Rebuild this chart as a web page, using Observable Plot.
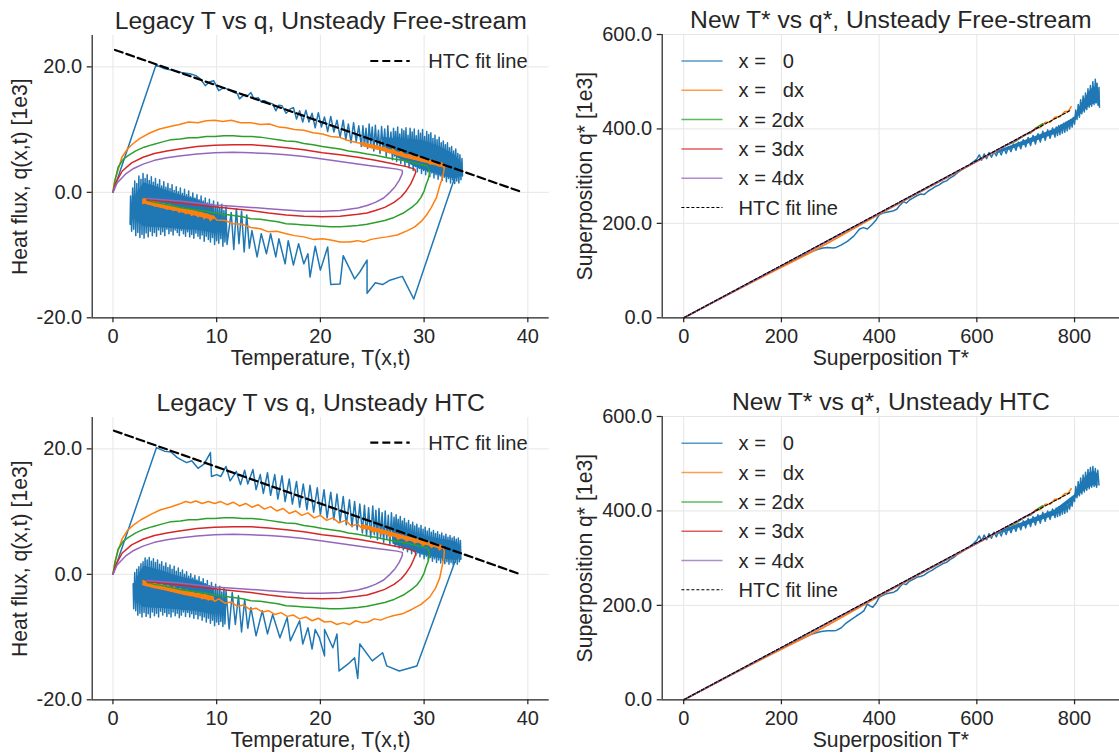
<!DOCTYPE html>
<html><head><meta charset="utf-8">
<script src="https://cdn.jsdelivr.net/npm/d3@7"></script>
<script src="https://cdn.jsdelivr.net/npm/@observablehq/plot@0.6"></script>
<style>
html,body{margin:0;padding:0;background:#fff;}
#root{position:relative;width:1119px;height:753px;overflow:hidden;font-family:"Liberation Sans",Arial,sans-serif;}
.panel{position:absolute;}
.panel svg{display:block;}
.legend{position:absolute;left:0;top:0;pointer-events:none;overflow:visible;}
</style></head><body><div id="root"></div>
<script>
// ---------------- data (flattened [x, y, x, y, ...]) ----------------
const COLORS = ["#1f77b4", "#ff7f0e", "#2ca02c", "#d62728", "#9467bd"];
const legacyXTicks = [0, 10, 20, 30, 40];
const legacyYTicks = [-20, 0, 20];
const superXTicks = [0, 200, 400, 600, 800];
const superYTicks = [0, 200, 400, 600];
const seriesLabels = ["x =\u00a0\u00a0\u00a00", "x =\u00a0\u00a0\u00a0dx", "x = 2dx", "x = 3dx", "x = 4dx"];

// Legacy T vs q, unsteady free-stream (T, q[1e3])
const blueLegacyFree = [0,0, 4.15,20.3, 5.0,19.7, 5.9,19.4, 6.6,19.1, 7.5,18.85, 8.0,18.6, 8.45,18.05, 8.9,17.0, 9.3,17.6, 9.7,17.8, 10.2,16.2, 10.7,16.7, 11.2,16.3, 11.6,16.0, 12.0,15.7, 12.2,14.9, 12.6,15.5, 13.0,15.4, 13.3,15.9, 13.6,14.9, 14.0,15.1, 14.3,14.4, 14.6,14.6, 15.0,14.3, 15.4,14.1, 15.7,13.0, 16.0,13.9, 16.3,13.8, 16.7,12.6, 17.1,13.3,
 17.4,13.5, 17.7,11.7, 18.0,13.0, 18.3,11.2, 18.6,13.1, 18.9,11.2, 19.2,12.6, 19.5,10.3, 19.8,12.7, 20.1,10.4, 20.4,12.0, 20.7,9.7, 21.0,12.1, 21.3,9.6, 21.6,11.5, 21.9,8.8, 22.2,11.5, 22.45,8.4, 22.7,10.9, 22.95,7.9, 23.2,11.1, 23.45,8.1, 23.7,10.6, 23.95,7.3,
 24.1,10.6, 24.25,7.4, 24.4,10.2, 24.55,7.0, 24.7,10.9, 24.85,7.6, 25.0,10.4, 25.15,6.6, 25.3,10.7, 25.45,7.1, 25.6,9.9, 25.75,6.2, 25.9,10.5, 26.05,6.8, 26.2,10.1, 26.35,5.7, 26.5,10.6, 26.65,6.3, 26.8,9.6, 26.95,5.2,
 27.05,10.2, 27.15,5.8, 27.25,9.7, 27.35,4.9, 27.45,10.4, 27.55,5.5, 27.65,9.3, 27.75,4.6, 27.85,10.1, 27.95,5.1, 28.05,9.8, 28.15,4.2, 28.25,10.3, 28.35,4.8, 28.45,9.1, 28.55,3.9, 28.65,10.2, 28.75,4.5, 28.85,9.6, 28.95,3.5, 29.05,10.1, 29.15,4.1, 29.25,9.0, 29.35,3.3, 29.45,9.9, 29.55,3.8, 29.65,9.4, 29.75,3.0, 29.85,10.0, 29.95,3.5, 30.05,8.9, 30.15,2.8, 30.25,9.7, 30.35,3.3, 30.45,9.2, 30.55,2.5, 30.65,9.5, 30.75,3.1, 30.85,8.6, 30.95,2.3, 31.05,9.1, 31.15,2.8, 31.25,8.4, 31.35,2.1, 31.45,8.8, 31.55,2.6, 31.65,7.9, 31.75,1.9, 31.85,8.2, 31.95,2.4, 32.05,7.6, 32.15,1.7, 32.25,7.9, 32.35,2.2, 32.45,7.1, 32.55,1.5, 32.65,7.3, 32.75,2.0, 32.85,6.6, 32.95,1.4, 33.05,6.9, 33.15,1.8, 33.25,6.2, 33.35,1.5, 33.45,6.0, 33.55,2.0, 33.65,5.4, 33.7,2.6, 33.3,4.0, 32.8,1.6,
 29.0,-17.0, 27.9,-13.4, 26.7,-14.0, 26.0,-14.7, 25.3,-14.4, 24.5,-16.1, 24.5,-10.8, 23.8,-12.7, 23.3,-13.8, 22.2,-10.1, 21.9,-14.6, 21.0,-14.7, 20.7,-8.7, 20.0,-12.4, 19.5,-8.6, 19.0,-13.5, 18.8,-9.8, 18.4,-11.4, 17.9,-8.2, 17.4,-11.6, 16.9,-7.7, 16.6,-11.4, 16.0,-7.4, 15.7,-10.3, 15.2,-6.6, 14.8,-9.8, 14.3,-6.6, 13.9,-10.3, 13.4,-6.1, 13.15,-8.9, 12.9,-3.6, 12.65,-9.5, 12.4,-3.0, 12.15,-8.2, 11.9,-2.6, 11.65,-9.1, 11.4,-3.2,
 11.0,-8.3, 10.9,-2.3, 10.8,-7.9, 10.7,-2.9, 10.6,-8.6, 10.5,-1.9, 10.4,-7.4, 10.3,-2.5, 10.2,-8.1, 10.1,-1.6, 10.0,-7.7, 9.9,-2.2, 9.8,-8.3, 9.7,-1.4, 9.6,-7.2, 9.5,-1.9, 9.4,-7.9, 9.3,-1.1, 9.2,-7.5, 9.1,-1.7, 9.0,-7.0, 8.9,-0.9, 8.8,-7.8, 8.7,-1.4, 8.6,-6.8, 8.5,-0.6, 8.4,-7.4, 8.3,-1.2, 8.2,-7.0, 8.1,-0.4, 8.0,-6.5, 7.9,-0.9, 7.8,-7.3, 7.7,-0.1, 7.6,-6.7, 7.5,-0.7, 7.4,-7.1, 7.3,0.2, 7.2,-6.3, 7.1,-0.4, 7.0,-7.0, 6.9,0.5, 6.8,-6.6, 6.7,-0.2, 6.6,-6.1, 6.5,0.7, 6.4,-6.9, 6.3,0.1, 6.2,-6.4, 6.1,0.9, 6.0,-6.0, 5.9,0.3, 5.8,-6.8, 5.7,1.2, 5.6,-6.2, 5.5,0.6, 5.4,-6.6, 5.3,1.4, 5.2,-5.9, 5.1,0.8, 5.0,-6.9, 4.9,1.7, 4.8,-6.3, 4.7,1.0, 4.6,-6.7, 4.5,2.0, 4.4,-6.0, 4.3,1.3, 4.2,-7.0, 4.1,2.2, 4.0,-6.4, 3.9,1.6, 3.8,-6.9, 3.7,2.5, 3.6,-6.2, 3.5,1.9, 3.4,-7.1, 3.3,2.8, 3.2,-6.5, 3.1,2.2, 3.0,-7.3, 2.9,3.0, 2.8,-6.7, 2.7,2.1, 2.6,-7.2, 2.5,2.6, 2.4,-6.4, 2.3,1.4, 2.2,-6.9, 2.1,1.8, 2.0,-5.9, 1.9,0.7, 1.8,-6.2, 1.7,-0.6, 1.65,-5.1, 1.9,-1.2, 2.2,-4.6, 2.6,-0.8, 2.9,-2.4];
// solid cores of the densest blue scatter, [T, q low, q high, ...]
const blueLegacyFreeCore = [26.0,7.2,8.8, 27.0,6.0,8.6, 28.0,5.0,8.5, 29.0,4.2,8.4, 30.0,3.5,8.2, 31.0,3.0,7.6, 32.0,2.5,6.9, 33.0,2.1,5.9, 33.5,2.5,5.0];
const blueLegacyFreeCore2 = [2.2,-4.5,-0.5, 3.0,-5.5,1.5, 4.0,-5.6,1.0, 5.0,-5.7,0.4, 6.0,-5.8,-0.2, 7.0,-6.0,-0.7, 8.0,-6.0,-1.1, 9.0,-6.3,-1.8, 9.8,-6.6,-2.6];

const orangeLegacyFree = [0,0, 0.17,1.85, 0.5,3.6, 0.86,5.6, 1.4,6.9, 1.9,7.7, 2.6,8.6, 3.6,9.5, 4.5,10.1, 5.5,10.5, 6.4,10.8, 7.3,11.2, 8.2,11.1, 9.0,11.4, 9.8,11.5, 10.6,11.3, 11.4,11.5, 12.3,11.1, 13.3,11.1, 14.2,10.8, 15.1,10.9, 16.0,10.4, 16.7,10.3, 17.5,10.0, 18.4,9.9, 19.3,9.5, 20.2,9.3, 21.0,8.9, 21.8,8.8, 22.6,8.3, 23.6,7.9, 24.3,7.7, 25.0,7.1, 25.4,7.5, 25.8,6.8, 26.2,7.2, 26.6,6.4, 27.0,6.9, 27.4,6.0, 27.8,6.5, 28.2,5.6, 28.6,6.1, 29.0,5.3, 29.4,5.7, 29.8,4.9, 30.2,5.4, 30.6,4.5, 31.0,5.0, 31.4,4.2, 31.7,4.7, 31.9,3.8, 32.0,4.3, 31.8,2.5, 31.5,1.0, 31.2,-0.8, 30.7,-2.4, 30.2,-3.7, 29.8,-4.5, 29.1,-5.5, 28.4,-6.1, 27.4,-6.8, 26.4,-7.1, 25.6,-7.3, 24.9,-7.5, 24.2,-7.9, 23.6,-7.7, 22.8,-7.9, 21.9,-7.9, 21.0,-7.6, 20.2,-7.4, 19.3,-7.5, 18.4,-7.1, 17.5,-6.9, 16.7,-6.6, 15.8,-6.2, 15.0,-6.3, 14.2,-5.8, 13.3,-5.6, 12.5,-5.1, 11.6,-5.0, 10.8,-4.5, 10.0,-4.4, 9.7,-3.8, 9.4,-4.5, 9.1,-3.5, 8.8,-4.2, 8.5,-3.2, 8.2,-3.9, 7.9,-3.0, 7.6,-3.7, 7.3,-2.8, 7.0,-3.4, 6.7,-2.5, 6.4,-3.2, 6.1,-2.3, 5.8,-2.9, 5.5,-2.0, 5.2,-2.7, 4.9,-1.8, 4.6,-2.4, 4.3,-1.6, 4.0,-2.2, 3.7,-1.3, 3.4,-1.9, 3.1,-1.0, 2.9,-1.8, 2.9,-1.2];
const orangeLegacyFreeCore = [24.0,7.3,8.0, 26.0,6.5,7.2, 28.0,5.5,6.2, 30.0,4.7,5.3, 31.8,3.9,4.6];
const orangeLegacyFreeCore2 = [2.9,-1.8,-1.0, 4.0,-2.3,-1.5, 5.0,-2.7,-1.9, 6.0,-3.0,-2.2, 7.0,-3.4,-2.6, 8.0,-3.8,-3.0, 9.0,-4.2,-3.4, 9.8,-4.4,-3.8];

// Legacy T vs q, unsteady HTC
const blueLegacyHTC = [0,0, 4.2,20.2, 5.0,19.6, 5.6,19.5, 6.2,18.6, 7.1,17.8, 7.6,18.1, 8.2,16.9, 8.8,17.6, 9.4,19.4, 9.5,15.6, 10.0,15.9, 10.4,15.6, 10.9,17.2, 11.3,14.9, 11.9,16.4, 12.3,14.3, 12.7,16.6, 13.0,14.4, 13.5,16.7, 13.8,13.5, 14.2,15.9, 14.5,12.9, 14.9,16.2, 15.2,12.6, 15.6,15.9, 15.9,12.0, 16.3,15.7, 16.6,11.6, 17.0,15.2, 17.3,11.2, 17.7,14.8, 18.0,10.7, 18.35,14.4, 18.7,10.3, 19.0,14.2, 19.35,9.9, 19.7,13.8, 20.0,9.5, 20.35,13.5, 20.65,9.0, 21.0,13.1, 21.3,8.7, 21.6,12.8, 21.9,8.4, 22.2,12.4, 22.5,7.9, 22.8,11.9, 23.05,7.6, 23.3,11.6, 23.55,7.1, 23.8,11.2,
 24.05,6.6, 24.25,11.0, 24.45,6.2, 24.65,10.6, 24.85,5.8, 25.05,10.9, 25.2,6.3, 25.35,10.2, 25.5,5.5, 25.65,10.5, 25.8,5.9, 25.95,9.8, 26.1,5.1, 26.25,10.1, 26.4,5.6, 26.55,9.4, 26.7,4.8, 26.85,9.8, 27.0,5.2,
 27.1,9.1, 27.2,4.5, 27.3,9.5, 27.4,4.9, 27.5,8.8, 27.6,4.2, 27.7,9.2, 27.8,4.6, 27.9,8.5, 28.0,3.9, 28.1,8.9, 28.2,4.3, 28.3,8.2, 28.4,3.6, 28.5,8.6, 28.6,4.0, 28.7,7.9, 28.8,3.3, 28.9,8.3, 29.0,3.7, 29.1,7.7, 29.2,3.0, 29.3,8.0, 29.4,3.4, 29.5,7.4, 29.6,2.8, 29.7,7.8, 29.8,3.2, 29.9,7.2, 30.0,2.5, 30.1,7.5, 30.2,2.9, 30.3,6.9, 30.4,2.3, 30.5,7.3, 30.6,2.7, 30.7,6.7, 30.8,2.1, 30.9,7.0, 31.0,2.5, 31.1,6.5, 31.2,1.9, 31.3,6.8, 31.4,2.3, 31.5,6.3, 31.6,1.8, 31.7,6.6, 31.8,2.2, 31.9,6.1, 32.0,1.7, 32.1,6.4, 32.2,2.0, 32.3,5.9, 32.4,1.6, 32.5,6.2, 32.6,1.9, 32.7,5.8, 32.8,1.5, 32.9,6.0, 33.0,1.9, 33.1,5.6, 33.2,1.6, 33.3,5.8, 33.4,2.0, 33.5,5.4, 33.55,2.4, 33.2,3.2, 32.9,1.7,
 29.3,-14.6, 27.6,-15.4, 26.4,-14.6, 26.0,-12.5, 25.0,-13.8, 23.8,-11.1, 23.6,-16.6, 23.3,-13.3, 22.8,-14.1, 21.8,-15.4, 21.6,-9.5, 21.2,-11.7, 20.4,-8.8, 20.4,-13.0, 19.9,-10.1, 19.5,-8.8, 19.2,-11.9, 18.8,-8.5, 18.3,-11.1, 18.0,-7.4, 17.1,-10.6, 16.8,-6.9, 16.1,-10.1, 15.4,-6.4, 14.9,-9.5, 14.4,-5.8, 13.8,-9.8, 13.3,-5.3, 13.0,-8.6, 12.7,-4.0, 12.4,-9.2, 12.1,-3.4, 11.8,-8.0, 11.5,-2.9, 11.2,-8.7,
 10.9,-2.6, 10.8,-7.9, 10.7,-2.2, 10.6,-8.3, 10.5,-2.8, 10.4,-7.5, 10.3,-1.9, 10.2,-8.0, 10.1,-2.4, 10.0,-7.6, 9.9,-1.6, 9.8,-8.2, 9.7,-2.1, 9.6,-7.3, 9.5,-1.3, 9.4,-7.8, 9.3,-1.8, 9.2,-7.0, 9.1,-1.0, 9.0,-7.6, 8.9,-1.5, 8.8,-6.8, 8.7,-0.7, 8.6,-7.3, 8.5,-1.2, 8.4,-6.6, 8.3,-0.4, 8.2,-7.1, 8.1,-0.9, 8.0,-6.4, 7.9,-0.2, 7.8,-7.0, 7.7,-0.6, 7.6,-6.3, 7.5,0.1, 7.4,-6.8, 7.3,-0.3, 7.2,-6.1, 7.1,0.4, 7.0,-6.7, 6.9,0.0, 6.8,-6.0, 6.7,0.7, 6.6,-6.5, 6.5,0.3, 6.4,-6.9, 6.3,1.0, 6.2,-6.2, 6.1,0.5, 6.0,-6.6, 5.9,1.3, 5.8,-6.0, 5.7,0.8, 5.6,-6.8, 5.5,1.5, 5.4,-6.3, 5.3,1.1, 5.2,-6.7, 5.1,1.8, 5.0,-6.1, 4.9,1.3, 4.8,-6.5, 4.7,2.0, 4.6,-5.9, 4.5,1.6, 4.4,-6.8, 4.3,2.3, 4.2,-6.2, 4.1,1.9, 4.0,-6.6, 3.9,2.5, 3.8,-6.0, 3.7,2.1, 3.6,-6.9, 3.5,2.7, 3.4,-6.3, 3.3,2.3, 3.2,-6.7, 3.1,2.6, 3.0,-6.1, 2.9,2.0, 2.8,-6.8, 2.7,1.7, 2.6,-6.2, 2.5,1.2, 2.4,-6.5, 2.3,0.8, 2.2,-5.8, 2.1,0.3, 2.0,-5.5, 1.95,-1.5, 2.3,-4.4, 2.6,-0.9, 3.0,-2.0];
const blueLegacyHTCCore = [27.0,4.8,7.2, 28.0,4.2,6.9, 29.0,3.6,6.5, 30.0,3.1,6.1, 31.0,2.7,5.8, 32.0,2.4,5.5, 33.0,2.2,5.2, 33.4,2.5,4.7];
const blueLegacyHTCCore2 = [2.3,-4.3,-0.6, 3.0,-5.3,1.3, 4.0,-5.4,0.9, 5.0,-5.5,0.4, 6.0,-5.6,-0.2, 7.0,-5.8,-0.6, 8.0,-5.9,-1.0, 9.0,-6.2,-1.6, 9.8,-6.5,-2.4];

const orangeLegacyHTC = [0,0, 0.2,2.0, 0.5,3.8, 0.9,5.7, 1.4,7.0, 2.0,7.9, 2.7,8.7, 3.7,9.6, 4.6,10.3, 5.5,10.7, 6.4,11.2, 7.0,11.6, 7.5,11.4, 8.0,11.7, 8.6,11.3, 9.2,11.6, 9.8,11.3, 10.4,11.6, 11.0,11.1, 11.6,11.5, 12.2,10.9, 12.8,11.3, 13.4,10.7, 14.0,11.1, 14.6,10.4, 15.2,10.8, 15.8,10.1, 16.4,10.5, 17.0,9.7, 17.6,10.1, 18.2,9.4, 18.8,9.8, 19.4,9.0, 20.0,9.4, 20.6,8.6, 21.2,9.0, 21.8,8.2, 22.4,8.6, 23.0,7.7, 23.6,8.0, 24.1,7.2, 24.6,7.6, 25.1,6.7, 25.5,7.3, 25.9,6.4, 26.3,6.9, 26.7,6.0, 27.1,6.5, 27.5,5.6, 27.9,6.1, 28.3,5.3, 28.7,5.8, 29.1,5.0, 29.5,5.4, 29.9,4.6, 30.3,5.1, 30.7,4.3, 31.1,4.8, 31.5,3.9, 31.8,4.5, 31.95,3.7, 31.9,2.6, 31.7,1.0, 31.5,-0.6, 31.1,-2.2, 30.5,-3.7, 29.7,-4.8, 28.8,-5.6, 27.9,-6.3, 27.0,-6.6, 26.4,-6.9, 25.8,-7.3, 25.2,-7.1, 24.6,-7.6, 24.0,-7.7, 23.4,-7.4, 22.8,-8.0, 22.2,-7.7, 21.6,-8.0, 21.0,-7.5, 20.4,-7.6, 19.8,-7.0, 19.2,-7.4, 18.6,-6.8, 18.0,-7.1, 17.4,-6.5, 16.8,-6.7, 16.2,-6.1, 15.6,-6.4, 15.0,-5.8, 14.4,-6.0, 13.8,-5.4, 13.2,-5.6, 12.6,-4.9, 12.0,-5.1, 11.4,-4.4, 10.8,-4.6, 10.2,-3.9, 9.8,-4.3, 9.5,-3.5, 9.2,-4.1, 8.9,-3.2, 8.6,-3.9, 8.3,-3.0, 8.0,-3.6, 7.7,-2.7, 7.4,-3.4, 7.1,-2.5, 6.8,-3.1, 6.5,-2.3, 6.2,-2.9, 5.9,-2.0, 5.6,-2.7, 5.3,-1.8, 5.0,-2.4, 4.7,-1.6, 4.4,-2.2, 4.1,-1.4, 3.8,-2.0, 3.5,-1.2, 3.2,-1.8, 2.95,-1.0, 2.9,-1.6];
const orangeLegacyHTCCore = [24.0,7.3,8.0, 26.0,6.4,7.1, 28.0,5.5,6.2, 30.0,4.7,5.3, 31.8,3.9,4.6];
const orangeLegacyHTCCore2 = [2.9,-1.8,-1.0, 4.0,-2.3,-1.5, 5.0,-2.6,-1.8, 6.0,-3.0,-2.2, 7.0,-3.4,-2.6, 8.0,-3.7,-3.0, 9.0,-4.1,-3.3, 9.8,-4.3,-3.6];

// inner-node loops (nearly identical in both legacy panels)
const greenLegacy = [0,0, 0.2,1.9, 0.5,4.0, 1.0,5.3, 1.5,5.9, 2.2,6.6, 3.0,7.2, 3.8,7.6, 4.7,8.0, 5.6,8.4, 6.5,8.5, 7.3,8.7, 8.1,8.7, 9.0,8.9, 9.8,8.9, 10.7,9.0, 11.6,9.0, 12.5,8.9, 13.3,8.9, 14.2,8.8, 15.0,8.6, 15.9,8.4, 16.7,8.2, 17.6,8.1, 18.4,7.8, 19.3,7.6, 20.2,7.3, 21.0,7.1, 21.9,6.9, 22.7,6.6, 23.6,6.4, 24.5,6.1, 25.3,5.9, 26.2,5.6, 27.1,5.3, 27.9,5.1, 28.8,4.8, 29.5,4.5, 30.3,4.2, 30.5,3.5, 30.5,2.9, 30.4,2.1, 30.2,1.3, 30.0,0.2, 29.7,-0.8, 29.3,-1.7, 28.8,-2.4, 28.0,-3.3, 27.1,-4.0, 26.2,-4.5, 25.3,-4.8, 24.5,-5.1, 23.6,-5.3, 22.7,-5.4, 21.9,-5.5, 21.0,-5.5, 20.2,-5.4, 19.3,-5.3, 18.4,-5.2, 17.6,-5.1, 16.7,-5.0, 15.9,-4.7, 15.0,-4.5, 14.2,-4.3, 13.3,-4.2, 12.5,-3.9, 11.6,-3.7, 10.7,-3.5, 9.8,-3.3, 9.0,-3.0, 8.1,-2.8, 7.3,-2.6, 6.4,-2.4, 5.6,-2.1, 4.7,-1.8, 4.0,-1.6, 3.3,-1.3];
const redLegacy = [0,0, 0.3,1.6, 0.9,3.4, 1.8,4.7, 2.9,5.6, 4.0,6.2, 5.2,6.6, 6.4,6.9, 8.1,7.3, 9.8,7.5, 11.6,7.6, 13.3,7.6, 15.0,7.4, 16.7,7.1, 18.4,6.8, 20.2,6.3, 21.9,6.0, 23.6,5.6, 25.3,5.1, 27.1,4.5, 28.3,4.1, 29.1,3.7, 29.2,3.2, 29.0,2.4, 28.7,1.3, 28.3,0.3, 27.8,-0.7, 27.1,-1.6, 26.2,-2.4, 25.3,-2.9, 24.5,-3.3, 23.6,-3.5, 21.9,-3.8, 20.2,-3.9, 18.4,-3.8, 16.7,-3.6, 15.0,-3.3, 13.3,-2.9, 11.6,-2.6, 9.8,-2.3, 8.1,-2.0, 6.4,-1.7, 4.8,-1.4, 3.3,-1.2];
const purpleLegacy = [0,0, 0.4,1.5, 1.2,2.9, 2.0,3.8, 2.9,4.5, 4.0,5.1, 5.2,5.5, 6.4,5.8, 8.1,6.1, 9.8,6.3, 11.6,6.4, 13.3,6.3, 15.0,6.2, 16.7,6.0, 18.4,5.7, 20.2,5.3, 21.9,4.9, 23.6,4.5, 25.0,4.2, 26.4,3.9, 27.4,3.7, 27.9,3.5, 27.9,3.0, 27.6,1.9, 27.2,0.9, 26.7,0.0, 26.1,-0.9, 25.3,-1.6, 24.5,-2.1, 23.6,-2.5, 21.9,-2.9, 20.2,-3.0, 18.4,-3.0, 16.7,-2.8, 15.0,-2.6, 13.3,-2.4, 11.6,-2.2, 9.8,-2.0, 8.1,-1.7, 6.4,-1.4, 4.8,-1.2, 3.3,-1.0];
const htcFitLegacyFree = [0.2,22.7, 39.5,0.0];
const htcFitLegacyHTC = [0.1,22.9, 39.3,0.0];

// Superposition T* vs q* [1e3]
const blueSuperFree = [0,0, 40,22, 80,44, 120,66, 160,88, 200,110, 215,117, 230,124, 245,132, 260,139, 275,145, 285,148, 295,149, 305,148, 312,149, 322,154, 335,162, 348,173, 360,188, 368,191, 376,188, 385,197, 393,206, 400,218, 408,222, 418,224, 428,226, 436,230, 442,238, 450,246, 456,243, 463,250, 470,254, 478,259, 485,262, 492,261, 500,268, 508,273, 515,278, 522,281, 530,287, 538,290, 545,296, 552,300, 560,307, 567,312, 575,318, 583,322, 590,328, 596,333,
 600,336, 605,345, 610,334, 615,347, 620,337, 625,350, 630,340, 635,352, 640,343, 645,356, 650,345, 655,360, 660,348, 665,362, 670,352, 675,368, 680,355, 685,372, 690,358, 695,377, 700,362, 705,382, 710,365, 715,386, 720,368, 725,390, 730,372, 735,395, 740,376, 745,398, 750,380, 755,402,
 760,383, 762.5,404, 765,386, 767.5,407, 770,388, 772.5,409, 775,391, 777.5,412, 780,393, 782.5,414, 785,396, 787.5,417, 790,400, 792.5,420, 795,404, 797.5,424, 800,410, 802.5,440, 805,420, 807.5,452, 810,425, 812.5,462, 815,432, 817.5,470, 820,436, 822.5,476, 825,441, 827.5,485, 830,446, 832.5,492, 835,448, 837.5,500, 840,452, 842.5,505, 844,455, 846,497, 848,450, 850,488, 851,446];
const blueSuperFreeCore = [640,347,352, 700,366,376, 760,388,400, 800,414,424, 810,428,446, 820,438,462, 830,447,478, 840,453,490, 848,455,482];
const blueSuperHTC = [0,0, 40,22, 80,44, 120,66, 160,88, 200,110, 215,117, 230,124, 245,131, 260,138, 275,143, 285,145, 295,146, 305,146, 312,147, 322,152, 332,162, 344,171, 354,178, 362,183, 369,189, 376,203, 381,199, 387,196, 394,205, 400,217, 407,221, 413,224, 422,226, 430,228, 437,232, 443,240, 449,246, 455,244, 462,251, 470,255, 478,260, 485,261, 492,264, 500,270, 508,274, 515,279, 522,283, 530,288, 538,291, 545,297, 552,301, 560,308, 567,312, 575,318, 583,323, 590,328, 596,334,
 600,338, 605,347, 610,336, 615,349, 620,339, 625,352, 630,342, 635,355, 640,345, 645,358, 650,347, 655,362, 660,350, 665,365, 670,354, 675,370, 680,357, 685,374, 690,360, 695,379, 700,364, 705,384, 710,367, 715,388, 720,370, 725,392, 730,374, 735,397, 740,378, 745,400, 750,382, 755,404,
 760,386, 762.5,406, 765,388, 767.5,409, 770,390, 772.5,411, 775,393, 777.5,414, 780,395, 782.5,416, 785,398, 787.5,419, 790,404, 792.5,424, 795,410, 797.5,430, 800,420, 802.5,452, 805,428, 807.5,462, 810,432, 812.5,470, 815,436, 817.5,476, 820,440, 822.5,482, 825,444, 827.5,488, 830,447, 832.5,492, 835,450, 837.5,494, 840,452, 842.5,490, 845,450, 847.5,486, 850,455];
const blueSuperHTCCore = [640,349,354, 700,368,378, 760,390,402, 800,424,434, 810,434,454, 820,442,468, 830,449,480, 840,454,484, 848,452,478];
const orangeSuper = [0,0, 100,54, 200,107, 250,133, 300,161, 350,190, 400,219, 450,247, 500,275, 550,303, 600,331, 640,353, 660,366, 680,374, 700,389, 710,391, 720,402, 730,403, 740,414, 750,414, 760,425, 770,426, 780,437, 787,437, 793,447];
const greenSuper = [0,0, 100,55, 200,110, 300,166, 400,221, 500,277, 600,332, 650,360, 680,375, 700,388, 710,392, 720,401, 727,406, 735,411];
const redSuper = [0,0, 200,110, 400,221, 600,332, 700,388, 712,395, 725,403];
const purpleSuper = [0,0, 200,110, 400,221, 600,332, 700,388, 715,396];
const htcFitSuper = [0,0, 793,440];

// ---------------- drawing ----------------
const FONT = "'Liberation Sans', Arial, sans-serif";
const TEXT = "#262626", AXIS = "#262626", GRID = "#e6e6e6";
const pts = a => d3.range(0, a.length, 2).map(i => [a[i], a[i + 1]]);
const trip = a => d3.range(0, a.length, 3).map(i => [a[i], a[i + 1], a[i + 2]]);
const fmt1 = d => d.toFixed(1);

function panel(o) {
  const marks = [];
  o.series.forEach((s, i) => {
    (o.cores[i] || []).forEach(c => marks.push(Plot.areaY(trip(c), {x: d => d[0], y1: d => d[1], y2: d => d[2], fill: COLORS[i]})));
    marks.push(Plot.line(pts(s), {x: d => d[0], y: d => d[1], stroke: COLORS[i], strokeWidth: 1.5, strokeLinejoin: "round"}));
  });
  return Plot.plot({
    width: o.w, height: o.h,
    marginTop: o.m[0], marginRight: o.m[1], marginBottom: o.m[2], marginLeft: o.m[3],
    x: {domain: o.xDomain, label: null},
    y: {domain: o.yDomain, label: null},
    style: {fontFamily: FONT, fontSize: "20px", color: TEXT, background: "white", overflow: "visible"},
    marks: [
      Plot.gridX(o.xTicks, {stroke: GRID, strokeOpacity: 1, strokeWidth: 1}),
      Plot.gridY(o.yTicks, {stroke: GRID, strokeOpacity: 1, strokeWidth: 1}),
      ...marks,
      Plot.line(pts(o.fit), {x: d => d[0], y: d => d[1], stroke: "black", strokeWidth: o.fitW, strokeDasharray: o.fitDash}),
      Plot.ruleX([o.xDomain[0]], {stroke: AXIS, strokeWidth: 1.25}),
      Plot.ruleY([o.yDomain[0]], {stroke: AXIS, strokeWidth: 1.25}),
      Plot.axisX(o.xTicks, {tickSize: 5, tickPadding: 6, tickFormat: o.xFmt, label: null, stroke: AXIS, strokeWidth: 1.25, fontSize: 20}),
      Plot.axisY(o.yTicks, {tickSize: 5, tickPadding: 5, tickFormat: fmt1, label: null, stroke: AXIS, strokeWidth: 1.25, fontSize: 20}),
      Plot.text([o.title], {text: d => d, frameAnchor: "top", textAnchor: "middle", lineAnchor: "bottom", dy: -6.7, fontSize: 24.7}),
      Plot.text([o.xLabel], {text: d => d, frameAnchor: "bottom", textAnchor: "middle", lineAnchor: "bottom", dy: 47.5, fontSize: 21.2}),
      Plot.text([o.yLabel], {text: d => d, frameAnchor: "left", textAnchor: "middle", lineAnchor: "bottom", rotate: -90, dx: o.yLabelDx, fontSize: 21.2})
    ]
  });
}

function legend(host, items, x0, x1, xt, y0, step, w, h) {
  const svg = d3.select(host).append("svg").attr("class", "legend").attr("width", w).attr("height", h)
    .style("font-family", FONT).style("font-size", "20.1px");
  items.forEach((it, i) => {
    const y = y0 + i * step;
    svg.append("line").attr("x1", x0).attr("x2", x1).attr("y1", y).attr("y2", y)
      .attr("stroke", it.color).attr("stroke-width", it.w).attr("stroke-dasharray", it.dash || null)
      .attr("stroke-opacity", it.op == null ? 1 : it.op);
    svg.append("text").attr("x", xt).attr("y", y).attr("dy", "0.35em").attr("fill", TEXT).text(it.label);
  });
}

const root = document.getElementById("root");
function place(left, top, node) {
  const d = document.createElement("div");
  d.className = "panel"; d.style.left = left + "px"; d.style.top = top + "px";
  d.appendChild(node); root.appendChild(d); return d;
}

const legacyCommon = {w: 560, h: 371, m: [35, 11.3, 53.7, 91.7], xDomain: [-2, 42.06], yDomain: [-20, 25],
  xTicks: legacyXTicks, yTicks: legacyYTicks, xFmt: d => String(d), fitW: 2.2, fitDash: "8,4",
  xLabel: "Temperature, T(x,t)", yLabel: "Heat flux, q(x,t) [1e3]", yLabelDx: -65};
const superCommon = {w: 559, h: 371, m: [34, 0, 53.7, 101.7], xDomain: [-44, 892], yDomain: [0, 600],
  xTicks: superXTicks, yTicks: superYTicks, xFmt: d => String(d), fitW: 1.1, fitDash: "3,2",
  xLabel: "Superposition T*", yLabel: "Superposition q* [1e3]", yLabelDx: -70.2};

const pTL = place(0, 0, panel({...legacyCommon, title: "Legacy T vs q, Unsteady Free-stream",
  series: [blueLegacyFree, orangeLegacyFree, greenLegacy, redLegacy, purpleLegacy],
  cores: [[blueLegacyFreeCore, blueLegacyFreeCore2], [orangeLegacyFreeCore, orangeLegacyFreeCore2]], fit: htcFitLegacyFree}));
const pTR = place(560, 0, panel({...superCommon, title: "New T* vs q*, Unsteady Free-stream",
  series: [blueSuperFree, orangeSuper, greenSuper, redSuper, purpleSuper], cores: [[blueSuperFreeCore]], fit: htcFitSuper}));
const pBL = place(0, 382, panel({...legacyCommon, title: "Legacy T vs q, Unsteady HTC",
  series: [blueLegacyHTC, orangeLegacyHTC, greenLegacy, redLegacy, purpleLegacy],
  cores: [[blueLegacyHTCCore, blueLegacyHTCCore2], [orangeLegacyHTCCore, orangeLegacyHTCCore2]], fit: htcFitLegacyHTC}));
const pBR = place(560, 382, panel({...superCommon, title: "New T* vs q*, Unsteady HTC",
  series: [blueSuperHTC, orangeSuper, greenSuper, redSuper, purpleSuper], cores: [[blueSuperHTCCore]], fit: htcFitSuper}));

const fitItemLegacy = [{label: "HTC fit line", color: "black", w: 2.2, dash: "8,4"}];
legend(pTL, fitItemLegacy, 370.3, 409.7, 428.3, 61, 0, 560, 371);
legend(pBL, fitItemLegacy, 370.3, 409.7, 428.3, 60.7, 0, 560, 371);
const superItems = seriesLabels.map((l, i) => ({label: l, color: COLORS[i], w: 1.5, op: 0.75}))
  .concat([{label: "HTC fit line", color: "black", w: 1.1, dash: "3,2"}]);
legend(pTR, superItems, 121.4, 162.5, 178.6, 61, 29.3, 559, 371);
legend(pBR, superItems, 121.4, 162.5, 178.6, 61.3, 29.3, 559, 371);
</script></body></html>
